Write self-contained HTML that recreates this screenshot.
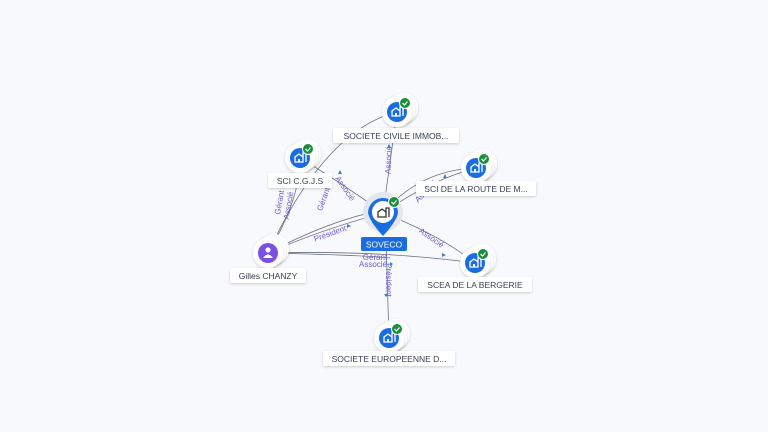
<!DOCTYPE html>
<html><head><meta charset="utf-8"><style>
html,body{margin:0;padding:0;background:#f8f9fc;}
svg{display:block;}
text{font-family:"Liberation Sans",sans-serif;}
</style></head><body>
<svg width="768" height="432" viewBox="0 0 768 432" xmlns="http://www.w3.org/2000/svg">
<defs>
<filter id="sh" x="-50%" y="-50%" width="200%" height="200%"><feDropShadow dx="0" dy="1" stdDeviation="1.2" flood-color="#000" flood-opacity="0.18"/></filter>
<g id="bld"><path d="M-5,4 V-1 L-1,-4 L3,-1 V4 Z M3,4 V-5 H6 V4" fill="none" stroke="#fff" stroke-width="1.3"/><rect x="-2" y="1" width="2" height="3" fill="#fff"/></g>
<g id="co">
<circle cx="6" cy="-4" r="15" fill="#fff" filter="url(#sh)"/>
<circle cx="3" cy="-2" r="15" fill="#fff" filter="url(#sh)"/>
<circle cx="0" cy="0" r="15" fill="#fff" filter="url(#sh)"/>
<circle cx="0" cy="0" r="10" fill="#1a6de0"/>
<use href="#bld"/>
<circle cx="8" cy="-9" r="5.5" fill="#1e8e3e" stroke="#fff" stroke-width="1"/>
<path d="M5.5,-9 l2,2 l3,-3.5" fill="none" stroke="#fff" stroke-width="1.2"/>
</g>
</defs>
<g fill="none" stroke="#6a7285" stroke-width="0.8">
<path d="M268,253 Q325,130 397,112"/>
<path d="M268,253 Q300,200 300,158"/>
<path d="M268,253 Q320,230 383,213"/>
<path d="M268,253 Q330,220 383,210"/>
<path d="M268,253 Q380,250 475,263"/>
<path d="M268,253 Q360,255 390,258"/>
<path d="M300,158 Q345,185 383,213"/>
<path d="M383,213 L397,112"/>
<path d="M383,213 Q420,170 476,168"/>
<path d="M383,213 Q430,180 476,168"/>
<path d="M383,213 Q440,235 475,263"/>
<path d="M386,240 L389,338"/>
</g>
<g font-size="8" fill="#6b5bd6" text-anchor="middle">
<text transform="translate(391,160) rotate(-88)">Associé</text>
<text transform="translate(343,190) rotate(55)">Associé</text>
<text transform="translate(326,200) rotate(-70)">Gérant</text>
<text transform="translate(282,203) rotate(-80)">Gérant</text>
<text transform="translate(291,206) rotate(-80)">Associé</text>
<text transform="translate(331,236) rotate(-20)">Président</text>
<text transform="translate(430,240) rotate(35)">Associé</text>
<text transform="translate(428,193) rotate(-45)">Associé</text>
<text x="375" y="260">Gérant</text>
<text x="373" y="267">Associé</text>
<text transform="translate(386,280) rotate(90)">Président</text>
</g>
<g fill="#3d7bd9">
<path d="M340,170 l-2,4 l4,0z"/><path d="M389,144 l-2,4 l4,0z"/><path d="M347,224 l4,2 l-4,2z"/>
<path d="M386,297 l-2,-3 l4,0z"/><path d="M442,253 l4,2 l-4,2z"/><path d="M443,178 l2,-4 l2,4z"/>
<path d="M390,262 l3,2 l-3,2z"/>
</g>
<use href="#co" x="397" y="112"/>
<use href="#co" x="300" y="158"/>
<use href="#co" x="476" y="168"/>
<use href="#co" x="475" y="263"/>
<use href="#co" x="389" y="338"/>
<circle cx="383" cy="212" r="20" fill="#e3e6ec"/>
<path d="M368,213 A15,15 0 1 1 398,213 Q396,222 383,236 Q370,222 368,213Z" fill="#1a6de0"/>
<circle cx="383" cy="212" r="11" fill="#fff"/>
<path d="M378,217 V212 L382,209 L386,212 V217 Z M386,217 V208 L389,208 V217" fill="none" stroke="#333" stroke-width="1.3"/>
<circle cx="394" cy="202" r="5.5" fill="#1e8e3e" stroke="#fff" stroke-width="1"/>
<path d="M391.5,202 l2,2 l3,-3.5" fill="none" stroke="#fff" stroke-width="1.2"/>
<circle cx="274" cy="249" r="15" fill="#fff" filter="url(#sh)"/>
<circle cx="271" cy="251" r="15" fill="#fff" filter="url(#sh)"/>
<circle cx="268" cy="253" r="15" fill="#fff" filter="url(#sh)"/>
<circle cx="268" cy="253" r="10" fill="#7b4fe0"/>
<circle cx="268" cy="250" r="2.6" fill="#fff"/><path d="M263,258 Q268,251 273,258Z" fill="#fff"/>
<g font-size="8.5" fill="#3a4156" text-anchor="middle">
<rect x="333" y="128" width="126" height="15" rx="2" fill="#fff" filter="url(#sh)"/><text x="396" y="139">SOCIETE CIVILE IMMOB...</text>
<rect x="268" y="173" width="64" height="15" rx="2" fill="#fff" filter="url(#sh)"/><text x="300" y="184">SCI C.G.J.S</text>
<rect x="416" y="181" width="120" height="15" rx="2" fill="#fff" filter="url(#sh)"/><text x="476" y="192">SCI DE LA ROUTE DE M...</text>
<rect x="418" y="277" width="114" height="15" rx="2" fill="#fff" filter="url(#sh)"/><text x="475" y="288">SCEA DE LA BERGERIE</text>
<rect x="230" y="268" width="76" height="15" rx="2" fill="#fff" filter="url(#sh)"/><text x="268" y="279">Gilles CHANZY</text>
<rect x="323" y="351" width="132" height="15" rx="2" fill="#fff" filter="url(#sh)"/><text x="389" y="362">SOCIETE EUROPEENNE D...</text>
<rect x="361" y="237" width="46" height="14" rx="2" fill="#1a6de0"/><text x="384" y="247.5" fill="#fff">SOVECO</text>
</g>
</svg>
</body></html>
